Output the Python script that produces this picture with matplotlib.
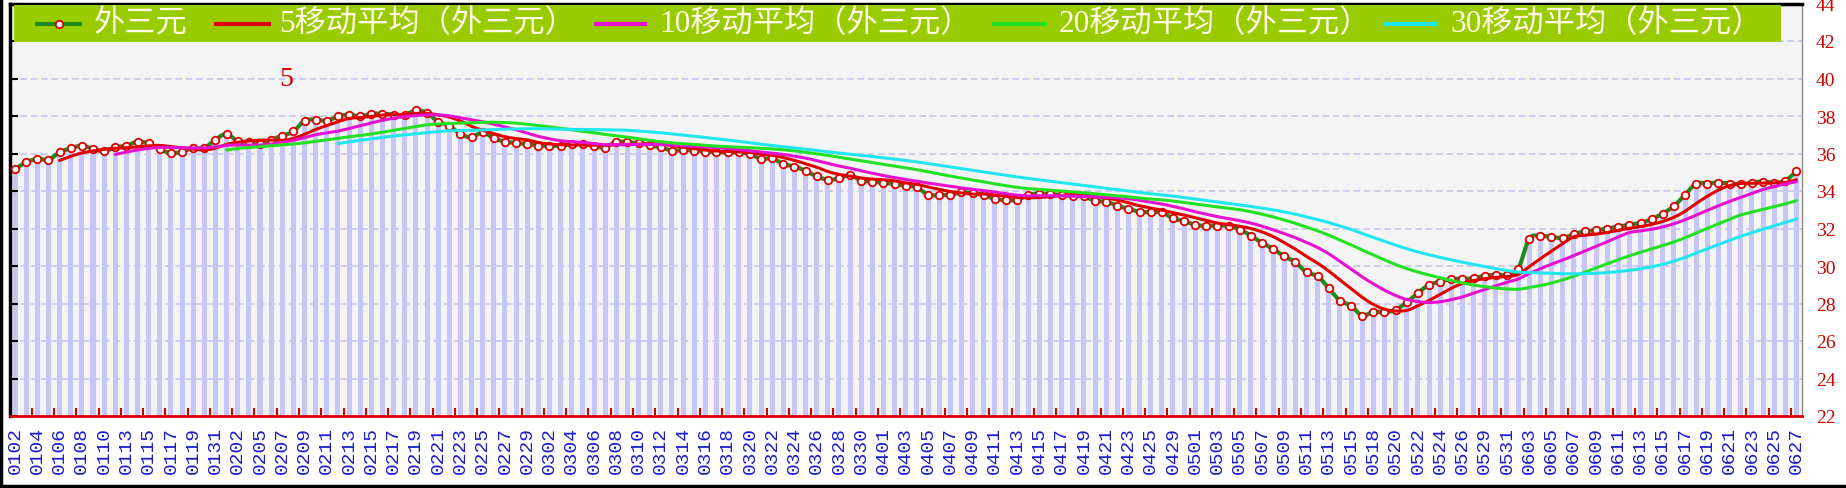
import numpy as np
import pandas as pd
import matplotlib
matplotlib.use('Agg')
import matplotlib.pyplot as plt
from matplotlib.patches import Rectangle
from matplotlib.lines import Line2D

# ---------------- data ----------------
dates = ['0102', '0103', '0104', '0105', '0106', '0107', '0108', '0109', '0110', '0112',
         '0113', '0114', '0115', '0116', '0117', '0118', '0119', '0120', '0131', '0201',
         '0202', '0203', '0205', '0206', '0207', '0208', '0209', '0210', '0211', '0212',
         '0213', '0214', '0215', '0216', '0217', '0218', '0219', '0220', '0221', '0222',
         '0223', '0224', '0225', '0226', '0227', '0228', '0229', '0301', '0302', '0303',
         '0304', '0305', '0306', '0307', '0308', '0309', '0310', '0311', '0312', '0313',
         '0314', '0315', '0316', '0317', '0318', '0319', '0320', '0321', '0322', '0323',
         '0324', '0325', '0326', '0327', '0328', '0329', '0330', '0331', '0401', '0402',
         '0403', '0404', '0405', '0406', '0407', '0408', '0409', '0410', '0411', '0412',
         '0413', '0414', '0415', '0416', '0417', '0418', '0419', '0420', '0421', '0422',
         '0423', '0424', '0425', '0428', '0429', '0430', '0501', '0502', '0503', '0504',
         '0505', '0506', '0507', '0508', '0509', '0510', '0511', '0512', '0513', '0514',
         '0515', '0517', '0518', '0519', '0520', '0521', '0522', '0523', '0524', '0525',
         '0526', '0528', '0529', '0530', '0531', '0602', '0603', '0604', '0605', '0606',
         '0607', '0608', '0609', '0610', '0611', '0612', '0613', '0614', '0615', '0616',
         '0617', '0618', '0619', '0620', '0621', '0622', '0623', '0624', '0625', '0626',
         '0627']

values = [35.17, 35.53, 35.71, 35.67, 36.06, 36.28, 36.42, 36.24, 36.12, 36.33,
          36.42, 36.63, 36.54, 36.24, 36.01, 36.10, 36.29, 36.29, 36.74, 37.04,
          36.65, 36.63, 36.51, 36.74, 36.95, 37.18, 37.75, 37.80, 37.75, 37.98,
          38.07, 37.98, 38.12, 38.12, 38.07, 38.07, 38.30, 38.16, 37.70, 37.48,
          37.04, 36.86, 37.13, 36.81, 36.63, 36.56, 36.51, 36.42, 36.42, 36.42,
          36.51, 36.51, 36.40, 36.32, 36.63, 36.60, 36.56, 36.45, 36.33, 36.15,
          36.19, 36.15, 36.10, 36.06, 36.06, 36.06, 35.97, 35.71, 35.74, 35.44,
          35.30, 35.08, 34.78, 34.60, 34.67, 34.85, 34.55, 34.50, 34.43, 34.38,
          34.28, 34.20, 33.79, 33.79, 33.79, 33.93, 33.88, 33.79, 33.57, 33.52,
          33.52, 33.79, 33.86, 33.83, 33.79, 33.75, 33.72, 33.47, 33.43, 33.22,
          33.04, 32.90, 32.87, 32.87, 32.54, 32.40, 32.19, 32.15, 32.15, 32.15,
          31.94, 31.62, 31.23, 30.91, 30.52, 30.20, 29.66, 29.45, 28.81, 28.15,
          27.88, 27.35, 27.56, 27.53, 27.67, 28.06, 28.56, 28.99, 29.16, 29.31,
          29.31, 29.35, 29.48, 29.53, 29.53, 29.84, 31.45, 31.60, 31.55, 31.50,
          31.70, 31.85, 31.90, 32.00, 32.10, 32.20, 32.30, 32.50, 32.80, 33.20,
          33.80, 34.40, 34.40, 34.45, 34.40, 34.35, 34.45, 34.50, 34.45, 34.55,
          35.05]

series_name = '外三元'
ma_windows = [5, 10, 20, 30]
ma_labels = ['5移动平均（外三元）', '10移动平均（外三元）', '20移动平均（外三元）', '30移动平均（外三元）']
y_ticks = [22, 24, 26, 28, 30, 32, 34, 36, 38, 40, 42, 44]
annotation_text = '5'

# ---------------- style ----------------
W, H = 1846, 489
C_DATA = '#1f8a1f'
C_MARK = '#e00000'
MA_COLORS = ['#e00000', '#e810d0', '#22e022', '#22e6ee']
C_BAR = '#c6c6f6'
C_GRID = '#c6c6f0'
C_LEG = '#99cc00'
SERIF_CJK = ['Liberation Serif', 'Noto Sans CJK SC', 'DejaVu Sans']


def catmull(x, y, n=8):
    x = np.asarray(x, float)
    y = np.asarray(y, float)
    if len(x) < 3:
        return x, y
    P = np.column_stack([x, y])
    P = np.vstack([2 * P[0] - P[1], P, 2 * P[-1] - P[-2]])
    t = np.linspace(0, 1, n, endpoint=False)[:, None]
    out = []
    for i in range(1, len(P) - 2):
        p0, p1, p2, p3 = P[i - 1], P[i], P[i + 1], P[i + 2]
        pts = 0.5 * ((2 * p1) + (-p0 + p2) * t + (2 * p0 - 5 * p1 + 4 * p2 - p3) * t ** 2
                     + (-p0 + 3 * p1 - 3 * p2 + p3) * t ** 3)
        out.append(pts)
    out.append(P[-2][None, :])
    out = np.vstack(out)
    return out[:, 0], out[:, 1]


def fx(px):
    return px / W


def fy(py_top):
    return 1 - py_top / H


fig = plt.figure(figsize=(W / 100, H / 100), dpi=100)
fig.patch.set_facecolor('white')

ax_l, ax_r, ax_t, ax_b = 9.5, 1802.0, 4.5, 417.0
ax = fig.add_axes([fx(ax_l), fy(ax_b), fx(ax_r - ax_l), (ax_b - ax_t) / H])
ax.set_facecolor('#f5f4f4')

x = np.arange(len(values))
vals = np.array(values)

# grid lines
for yv in y_ticks[1:-1]:
    ax.axhline(yv, color=C_GRID, lw=1.2, ls=(0, (4, 2.2)), zorder=0.5)

# bars
ax.bar(x, vals, width=0.45, color=C_BAR, zorder=1, antialiased=False)

# data line + markers
sx, sy = catmull(x, vals)
ax.plot(sx, sy, color=C_DATA, lw=3.0, zorder=3, solid_capstyle='round')
ax.plot(x, vals, 'o', ms=5.4, mfc='white', mec=C_MARK, mew=1.3, zorder=3.5)

# moving averages
s = pd.Series(vals)
for k, (w, c) in enumerate(zip(ma_windows, MA_COLORS)):
    ma = s.rolling(w).mean().to_numpy()
    ok = ~np.isnan(ma)
    mx, my = catmull(x[ok], ma[ok])
    ax.plot(mx, my, color=c, lw=2.2, zorder=4 + k, solid_capstyle='round')

ax.set_xlim(-0.5, len(values) - 0.5)
ax.set_ylim(22, 44)

# x axis: labels at even points, red tick marks at category boundaries
ax.set_xticks(x[::2])
ax.set_xticklabels(dates[::2], rotation=90, family='Liberation Mono', fontsize=14,
                   color='#1a1acc')
ax.set_xticks(x[::2] - 0.5, minor=True)
ax.tick_params(axis='x', which='major', length=0, pad=7)
ax.tick_params(axis='x', which='minor', direction='in', length=5.5, width=1.5,
               color='#dd0000', top=False)

# y axis: black inward ticks on left, red labels on right
ax.set_yticks(y_ticks)
ax.set_yticklabels([str(v) for v in y_ticks], family='Liberation Serif')
ax.tick_params(axis='y', which='major', left=True, right=False, labelleft=False,
               labelright=True, direction='in', length=6, width=1.5, color='black',
               labelcolor='#cc0000', labelsize=14, pad=10)

for side, col, lw in [('left', 'black', 2.5), ('top', 'black', 2.5),
                      ('right', '#8a8a8a', 1.0), ('bottom', '#dd0000', 2.0)]:
    ax.spines[side].set_color(col)
    ax.spines[side].set_linewidth(lw)

# annotation
ax.text(fx(286), fy(80), annotation_text, transform=fig.transFigure, color='#cc0000',
        family='Liberation Serif', fontsize=20, ha='center', va='center', zorder=9)

# ---------------- legend (custom band) ----------------
leg_top, leg_bot = 6, 43
fig.add_artist(Rectangle((fx(14), fy(leg_bot)), fx(1781 - 14), (leg_bot - leg_top) / H,
                         transform=fig.transFigure, facecolor=C_LEG, edgecolor='none',
                         zorder=10))
ly = fy((leg_top + leg_bot) / 2)
handles = [(35, 82), (214, 271), (594, 647), (992, 1047), (1383, 1438)]
text_x = [94, 279, 659, 1059, 1450]
labels = [series_name] + ma_labels
colors = [C_DATA] + MA_COLORS
for (h0, h1), tx, lab, c in zip(handles, text_x, labels, colors):
    fig.add_artist(Line2D([fx(h0), fx(h1)], [ly, ly], transform=fig.transFigure,
                          color=c, lw=3.0, zorder=11, solid_capstyle='butt'))
    fig.text(fx(tx), ly, lab, color='#fffbe6', family=SERIF_CJK, fontsize=22.5,
             ha='left', va='center', zorder=12)
# marker on the first handle
fig.add_artist(Line2D([fx(58.5)], [ly], transform=fig.transFigure, marker='o',
                      ms=5.4, mfc='white', mec=C_MARK, mew=1.3, zorder=12))

# outer border (left and bottom)
fig.add_artist(Line2D([fx(1), fx(1)], [0, 1], transform=fig.transFigure, color='black',
                      lw=2.5, zorder=13))
fig.add_artist(Line2D([0, 1], [fy(487), fy(487)], transform=fig.transFigure,
                      color='black', lw=2.5, zorder=13))

fig.savefig('out.png', dpi=100, facecolor=fig.get_facecolor())
